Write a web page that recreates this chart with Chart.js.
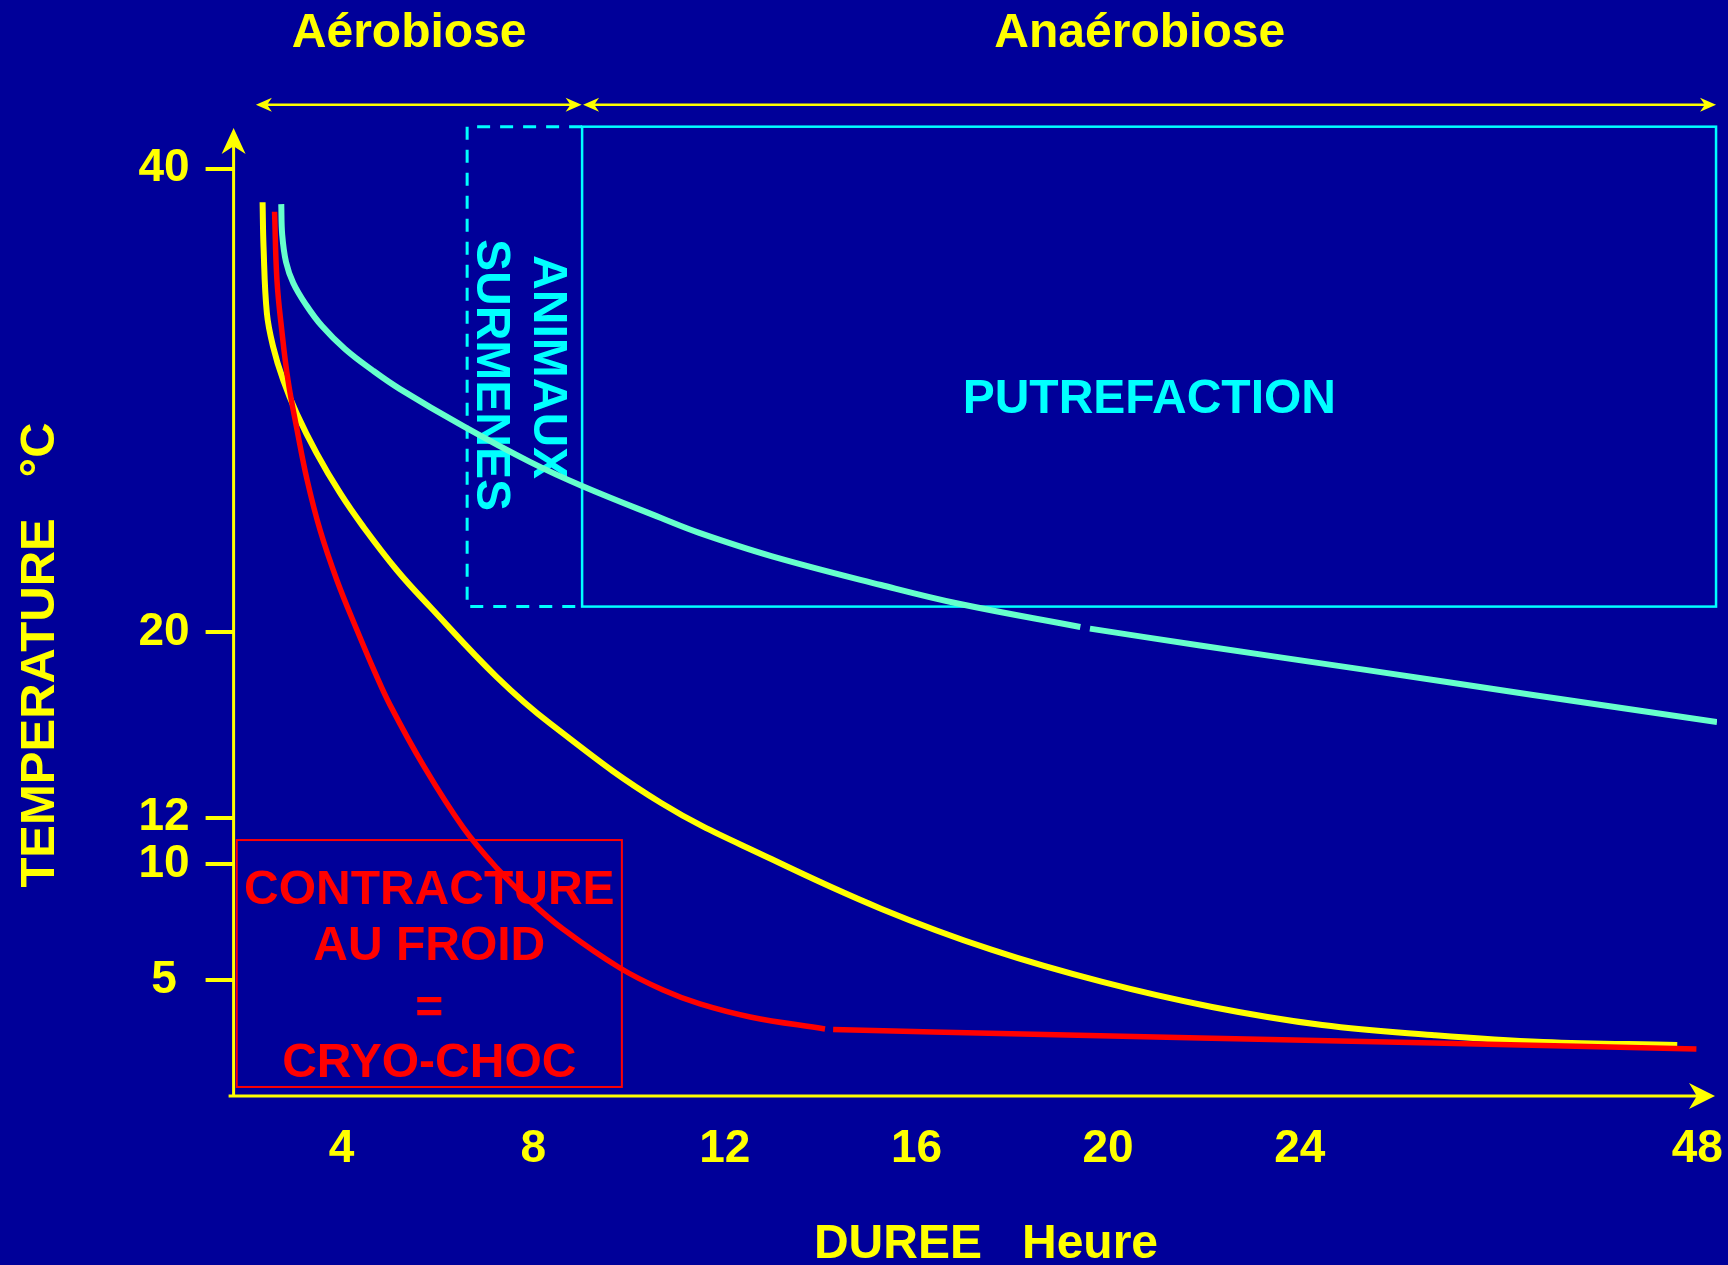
<!DOCTYPE html>
<html lang="fr">
<head>
<meta charset="utf-8">
<title>Température et durée</title>
<script src="https://cdn.jsdelivr.net/npm/chart.js@4.4.1/dist/chart.umd.min.js"></script>
<style>
  html, body { margin: 0; padding: 0; background: #000099; }
  canvas { display: block; }
</style>
</head>
<body>
<canvas id="chart" width="1728" height="1265"></canvas>
<script>
// x values are positions along the drawn axis (the axis jumps from 24 h to 48 h)
const xTickPos = [4, 8, 12, 16, 20, 24, 32.3];
const xTickLabels = ['4', '8', '12', '16', '20', '24', '48'];
const yTickPos = [5, 10, 12, 20, 40];
const yTickLabels = ['5 ', '10', '12', '20', '40'];

// red curve (cryo-choc), null = small break in the line
const redX = [2.60, 2.65, 2.75, 2.88, 3.07, 3.28, 3.55, 3.90, 4.32, 4.70, 5.01, 5.70, 6.53, 7.24, 7.93, 8.62, 9.81, 10.71, 11.48, 12.53, 14.09, 14.18, 14.26, 16.35, 19.14, 21.92, 26.79, 32.28];
const redY = [38.14, 35.19, 33.04, 30.88, 28.73, 26.57, 24.41, 22.26, 20.10, 18.25, 16.87, 14.28, 11.60, 9.83, 8.41, 7.20, 5.52, 4.57, 3.97, 3.41, 2.89, null, 2.87, 2.76, 2.63, 2.50, 2.29, 2.03];

// yellow curve
const yellowX = [2.35, 2.37, 2.44, 2.57, 2.78, 3.06, 3.48, 3.97, 4.45, 5.15, 5.85, 7.24, 8.37, 10.67, 12.97, 15.27, 17.58, 19.88, 22.17, 24.47, 26.76, 29.08, 31.88];
const yellowY = [38.55, 36.63, 33.76, 32.32, 30.88, 29.45, 27.72, 26.00, 24.56, 22.69, 21.09, 18.07, 16.04, 12.64, 10.22, 8.07, 6.30, 4.92, 3.84, 3.06, 2.63, 2.33, 2.20];

// green curve (animaux surmenés)
const greenX = [2.74, 2.76, 2.84, 2.99, 3.26, 3.59, 4.07, 4.64, 5.22, 6.53, 7.93, 9.02, 10.67, 11.48, 12.97, 15.26, 16.91, 19.42, 19.52, 19.62, 21.92, 25.41, 28.87, 32.71];
const greenY = [38.47, 37.14, 35.97, 35.07, 34.12, 33.21, 32.22, 31.31, 30.49, 28.90, 27.35, 26.31, 24.93, 24.28, 23.29, 22.04, 21.22, 20.23, null, 20.16, 19.43, 18.37, 17.30, 16.13];

const phaseNames = ['Aérobiose', 'Anaérobiose'];
const phaseFrom = [2.21, 9.04];
const phaseTo = [9.01, 32.69];

const YELLOW = '#FFFF00';
const RED = '#FF0000';
const CYAN = '#00FFFF';
const GREEN = '#66FFCC';
const BG = '#000099';
const FONT = "'Liberation Sans', Arial, sans-serif";

function points(xs, ys) {
  return xs.map((x, i) => ({ x: x, y: ys[i] }));
}

function arrowHead(ctx, tx, ty, angle, len, half) {
  ctx.save();
  ctx.translate(tx, ty);
  ctx.rotate(angle);
  ctx.beginPath();
  ctx.moveTo(0, 0);
  ctx.lineTo(-len, -half);
  ctx.lineTo(-len * 0.7, 0);
  ctx.lineTo(-len, half);
  ctx.closePath();
  ctx.fill();
  ctx.restore();
}

function text(ctx, str, x, y, size, color, rot) {
  ctx.save();
  ctx.translate(x, y);
  if (rot) ctx.rotate(rot);
  ctx.font = 'bold ' + size + 'px ' + FONT;
  ctx.fillStyle = color;
  ctx.textAlign = 'center';
  ctx.textBaseline = 'middle';
  ctx.fillText(str, 0, 0);
  ctx.restore();
}

const slide = {
  id: 'slide',
  beforeDraw(chart) {
    const ctx = chart.ctx;
    ctx.save();
    ctx.fillStyle = BG;
    ctx.fillRect(0, 0, chart.width, chart.height);
    ctx.restore();
  },
  beforeDatasetsDraw(chart) {
    const ctx = chart.ctx;
    const xs = chart.scales.x, ys = chart.scales.y;
    const a = chart.chartArea;
    const px = v => xs.getPixelForValue(v);
    const py = v => ys.getPixelForValue(v);

    ctx.save();

    // axes with arrows
    ctx.strokeStyle = YELLOW;
    ctx.fillStyle = YELLOW;
    ctx.lineWidth = 3;
    ctx.beginPath();
    ctx.moveTo(a.left, a.bottom);
    ctx.lineTo(a.left, a.top + 10);
    ctx.moveTo(a.left - 5, a.bottom);
    ctx.lineTo(a.right - 10, a.bottom);
    ctx.stroke();
    arrowHead(ctx, a.left, a.top - 1, -Math.PI / 2, 26, 12);
    arrowHead(ctx, a.right - 2, a.bottom, 0, 26, 13);

    // phase arrows and names
    ctx.lineWidth = 2.5;
    const arrowY = py(42.76);
    phaseNames.forEach((name, i) => {
      const x0 = px(phaseFrom[i]), x1 = px(phaseTo[i]);
      ctx.beginPath();
      ctx.moveTo(x0 + 5, arrowY);
      ctx.lineTo(x1 - 5, arrowY);
      ctx.stroke();
      arrowHead(ctx, x0, arrowY, Math.PI, 16, 7);
      arrowHead(ctx, x1, arrowY, 0, 16, 7);
    });
    text(ctx, phaseNames[0], px(5.41), py(45.80), 48, YELLOW);
    text(ctx, phaseNames[1], px(20.66), py(45.80), 48, YELLOW);

    // animaux surmenés zone (dashed, 3 sides)
    ctx.strokeStyle = CYAN;
    ctx.lineWidth = 3;
    ctx.setLineDash([13, 10]);
    ctx.beginPath();
    ctx.moveTo(px(9.02), py(41.81));
    ctx.lineTo(px(6.62), py(41.81));
    ctx.lineTo(px(6.62), py(21.11));
    ctx.lineTo(px(9.02), py(21.11));
    ctx.stroke();
    ctx.setLineDash([]);

    // putrefaction zone
    ctx.lineWidth = 2.5;
    ctx.strokeRect(px(9.02), py(41.81), px(32.69) - px(9.02), py(21.11) - py(41.81));

    // cryo-choc zone
    ctx.strokeStyle = RED;
    ctx.lineWidth = 2;
    ctx.strokeRect(px(1.81), py(11.04), px(9.85) - px(1.81), py(0.39) - py(11.04));

    text(ctx, 'PUTREFACTION', px(20.86), py(30.04), 48, CYAN);
    text(ctx, 'ANIMAUX', px(8.29), py(31.44), 48, CYAN, Math.PI / 2);
    text(ctx, 'SURMENES', px(7.10), py(31.10), 48, CYAN, Math.PI / 2);

    text(ctx, 'CONTRACTURE', px(5.83), py(8.87), 48, RED);
    text(ctx, 'AU FROID', px(5.83), py(6.43), 48, RED);
    text(ctx, '=', px(5.83), py(3.73), 48, RED);
    text(ctx, 'CRYO-CHOC', px(5.83), py(1.41), 48, RED);

    // axis titles
    text(ctx, 'DUREE   Heure', 986, 1245, 48, YELLOW);
    text(ctx, 'TEMPERATURE   °C', 40, 655, 49, YELLOW, -Math.PI / 2);

    ctx.restore();
  }
};

new Chart(document.getElementById('chart'), {
  type: 'line',
  data: {
    datasets: [
      { label: 'Cryo-choc', data: points(redX, redY), borderColor: RED, borderWidth: 5.5 },
      { label: 'Jaune', data: points(yellowX, yellowY), borderColor: YELLOW, borderWidth: 6 },
      { label: 'Animaux surmenés', data: points(greenX, greenY), borderColor: GREEN, borderWidth: 6 }
    ]
  },
  options: {
    responsive: false,
    animation: false,
    layout: { padding: { top: 129, right: 11, left: 0, bottom: 0 } },
    elements: {
      point: { radius: 0 },
      line: { tension: 0.4, borderCapStyle: 'butt', fill: false }
    },
    plugins: { legend: { display: false }, tooltip: { enabled: false } },
    scales: {
      x: {
        type: 'linear',
        min: 1.745,
        max: 32.71,
        afterFit(s) { s.height = 169; s.paddingLeft = 0; s.paddingRight = 0; },
        afterBuildTicks(s) { s.ticks = xTickPos.map(v => ({ value: v })); },
        ticks: {
          callback: (v, i) => xTickLabels[i],
          color: YELLOW,
          font: { family: FONT, size: 46, weight: 'bold' },
          padding: 26,
          maxRotation: 0,
          autoSkip: false
        },
        grid: { display: false, drawTicks: false },
        border: { display: false }
      },
      y: {
        type: 'linear',
        min: 0,
        max: 41.71,
        afterFit(s) { s.width = 233.6; s.paddingTop = 0; s.paddingBottom = 0; },
        afterBuildTicks(s) { s.ticks = yTickPos.map(v => ({ value: v })); },
        ticks: {
          callback: (v, i) => yTickLabels[i],
          color: YELLOW,
          font: { family: FONT, size: 46, weight: 'bold' },
          padding: 16,
          autoSkip: false
        },
        grid: { drawOnChartArea: false, drawTicks: true, tickLength: 28, color: YELLOW, lineWidth: 4 },
        border: { display: false }
      }
    }
  },
  plugins: [slide]
});
</script>
</body>
</html>
